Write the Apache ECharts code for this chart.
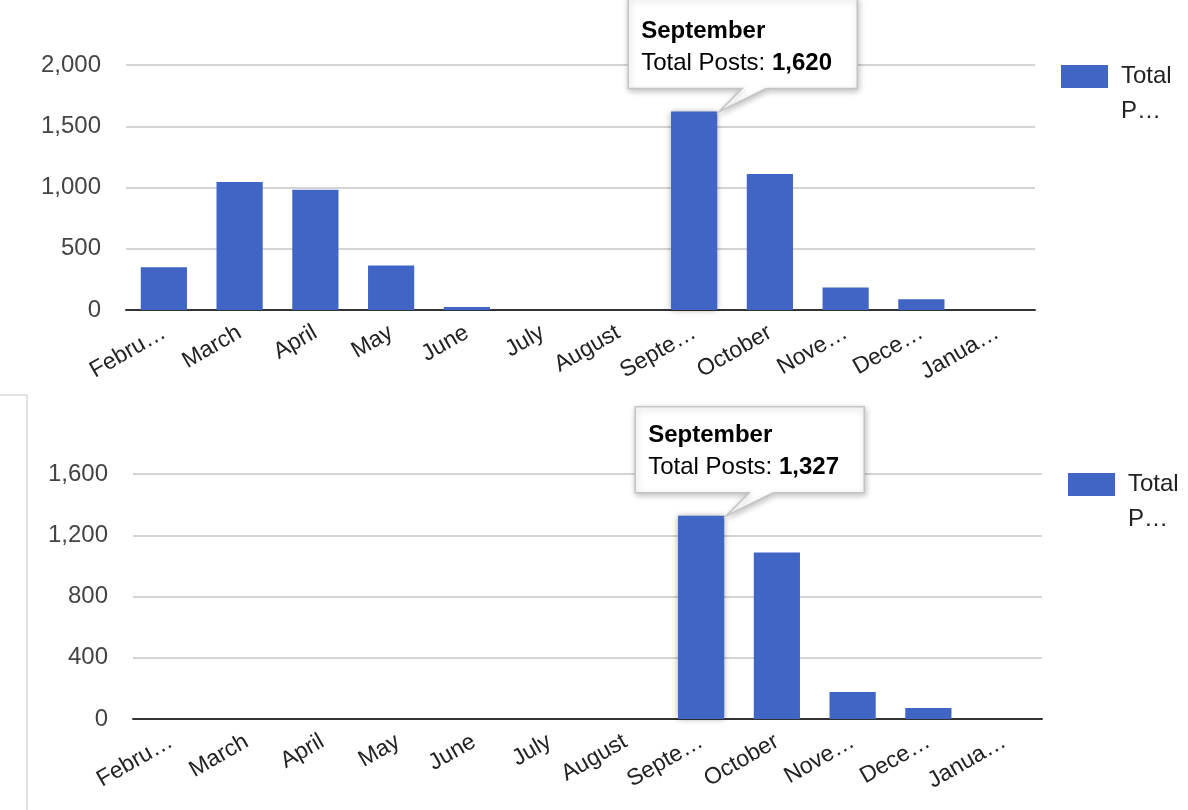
<!DOCTYPE html>
<html>
<head>
<meta charset="utf-8">
<script src="https://cdn.jsdelivr.net/npm/echarts@6/dist/echarts.min.js"></script>
<style>
  html, body { margin: 0; padding: 0; background: #fff; }
  #c1 { position: absolute; left: 0; top: 0; width: 1188px; height: 390px; }
  #c2 { position: absolute; left: 0; top: 390px; width: 1188px; height: 420px; }
</style>
</head>
<body>
<div id="c1"></div>
<div id="c2"></div>
<script>
// ---- data ----
const months = ['February','March','April','May','June','July','August','September','October','November','December','January'];
const tickLabels = ['Febru…','March','April','May','June','July','August','Septe…','October','Nove…','Dece…','Janua…'];
const seriesName = 'Total Posts';
const legendLabel = 'Total\nP…';
const topValues = [348, 1045, 982, 364, 25, 0, 0, 1620, 1110, 184, 87, 0];
const bottomValues = [0, 0, 0, 0, 0, 0, 0, 1327, 1087, 176, 72, 0];
const topTicks = { max: 2000, interval: 500 };
const bottomTicks = { max: 1600, interval: 400 };
const highlightIndex = 7;

const FONT = '"Liberation Sans", Arial, Helvetica, sans-serif';
const BAR = '#4065c4';
const fmt = v => Number(v).toLocaleString('en-US');

function makeOption(values, ticks, grid, legendTop) {
  return {
    animation: false,
    textStyle: { fontFamily: FONT },
    grid: Object.assign({ containLabel: false }, grid),
    legend: {
      data: [seriesName],
      left: grid.left + grid.width + 21,
      top: legendTop,
      orient: 'vertical',
      icon: 'rect',
      itemWidth: 47,
      itemHeight: 23,
      // a blank first line keeps the first text line level with the swatch
      formatter: () => '{s| }\n{t|' + legendLabel.split('\n').join('}\n{t|') + '}',
      selectedMode: false,
      textStyle: {
        fontFamily: FONT, fontSize: 24, color: '#222', lineHeight: 35,
        rich: {
          s: { fontSize: 24, lineHeight: 35, padding: [0, 0, 0, 8] },
          t: { fontFamily: FONT, fontSize: 24, color: '#222', lineHeight: 35, padding: [0, 0, 0, 8] }
        }
      }
    },
    xAxis: {
      type: 'category',
      data: months,
      axisTick: { show: false },
      axisLine: { show: true, lineStyle: { color: '#333', width: 2 } },
      axisLabel: {
        interval: 0, rotate: 30, margin: 21,
        fontFamily: FONT, fontSize: 23, color: '#222',
        formatter: (v, i) => tickLabels[i]
      }
    },
    yAxis: {
      type: 'value',
      min: 0, max: ticks.max, interval: ticks.interval,
      axisLine: { show: false },
      axisTick: { show: false },
      splitLine: { lineStyle: { color: '#d4d4d4', width: 2 } },
      axisLabel: { margin: 25, fontFamily: FONT, fontSize: 24, color: '#444', formatter: v => fmt(v) }
    },
    series: [{
      name: seriesName,
      type: 'bar',
      barCategoryGap: '39%',
      itemStyle: { color: BAR },
      data: values.map((v, i) => i === highlightIndex
        ? { value: v, itemStyle: { color: BAR, shadowColor: 'rgba(0,0,0,0.35)', shadowBlur: 6 } }
        : v)
    }]
  };
}

function addTooltip(chart, values, extraGraphics, boxTopOverride) {
  const idx = highlightIndex;
  const v = values[idx];
  const pTop = chart.convertToPixel({ seriesIndex: 0 }, [idx, v]);
  const layout = chart.getModel().getSeriesByIndex(0).getData().getItemLayout(idx);
  const barRight = layout.x + layout.width;
  const tipX = barRight + 2;
  const tipY = pTop[1];
  const L = tipX - 91, R = tipX + 138;
  const B = tipY - 23;
  const T = boxTopOverride !== undefined ? boxTopOverride : B - 86;
  const bl = tipX + 23, br = tipX + 47;
  const graphics = (extraGraphics || []).concat([
    {
      type: 'polygon',
      z: 100,
      shape: { points: [[L, T], [R, T], [R, B], [br, B], [tipX, tipY], [bl, B], [L, B]] },
      style: { fill: '#fff', stroke: '#c4c4c4', lineWidth: 1.5, shadowColor: 'rgba(0,0,0,0.25)', shadowBlur: 6, shadowOffsetX: 1, shadowOffsetY: 2 }
    },
    {
      type: 'text',
      z: 101,
      left: L + 13,
      top: B - 69,
      style: {
        text: '{b|' + months[idx] + '}\n{n|' + seriesName + ': }{b|' + fmt(v) + '}',
        rich: {
          b: { fontFamily: FONT, fontSize: 24, fontWeight: 'bold', color: '#111', lineHeight: 32 },
          n: { fontFamily: FONT, fontSize: 24, color: '#222', lineHeight: 32 }
        }
      }
    }
  ]);
  chart.setOption({ graphic: graphics });
}

const c1 = echarts.init(document.getElementById('c1'), null, { renderer: 'canvas' });
c1.setOption(makeOption(topValues, topTicks, { left: 126, top: 65, width: 909, height: 245 }, 19));
addTooltip(c1, topValues, [], -2);

const c2 = echarts.init(document.getElementById('c2'), null, { renderer: 'canvas' });
c2.setOption(makeOption(bottomValues, bottomTicks, { left: 133, top: 84, width: 909, height: 245 }, 37));
addTooltip(c2, bottomValues, [
  { type: 'polyline', z: 50, shape: { points: [[0, 5], [27, 5], [27, 420]] }, style: { stroke: '#d8d8d8', lineWidth: 1.5, fill: null } }
]);
</script>
</body>
</html>
